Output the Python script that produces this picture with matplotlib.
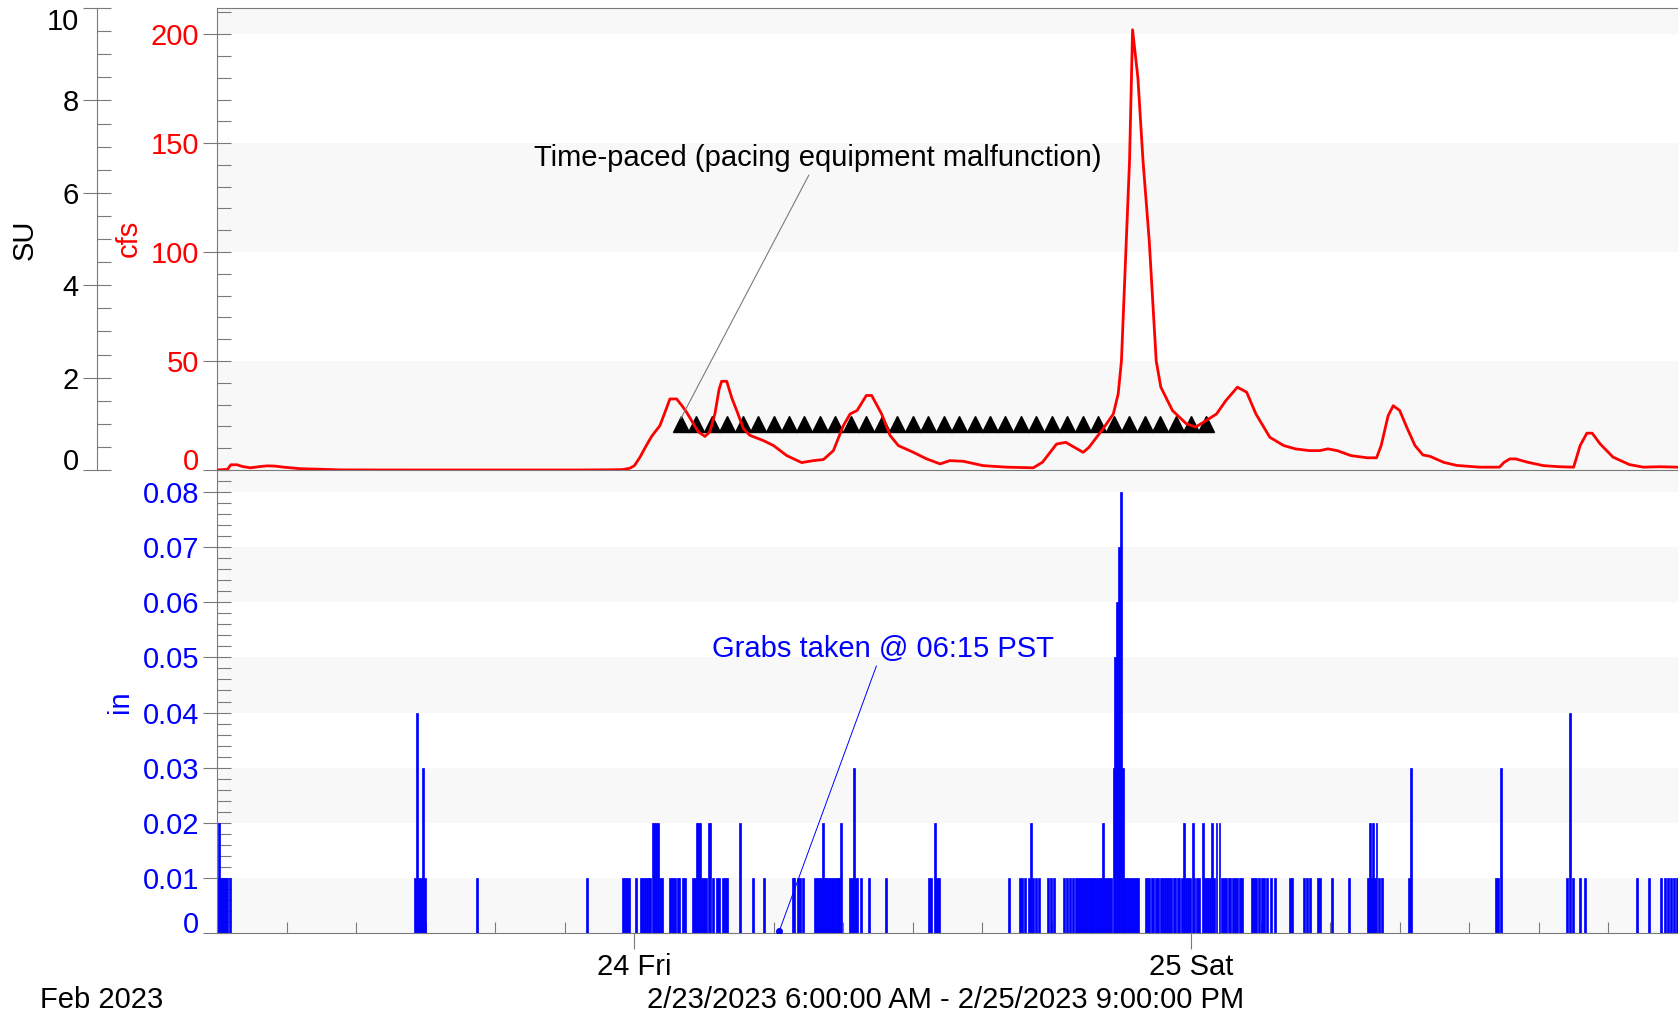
import matplotlib
matplotlib.use('Agg')
import matplotlib.pyplot as plt
import matplotlib.dates as mdates
import numpy as np
import pandas as pd

plt.rcParams['font.family'] = ['Liberation Sans', 'DejaVu Sans']

# ---- data (times are hours after 2/23/2023 6:00 AM) ----
start = pd.Timestamp('2023-02-23 06:00')
end = pd.Timestamp('2023-02-25 21:00')

flow_hours = [0, 0.45, 0.6, 0.86, 1.1, 1.44, 1.8, 2.16, 2.5, 2.87, 3.6, 4.6, 5.3, 8, 12,
              15.65, 17.0, 17.5, 17.8, 18.0, 18.24, 18.5, 18.74, 19.1, 19.3, 19.53, 19.82,
              20.05, 20.25, 20.5, 20.75, 21.04, 21.25, 21.47, 21.65, 21.76, 21.98, 22.2,
              22.41, 22.7, 22.98, 23.56, 24.0, 24.57, 25.21, 25.72, 26.15, 26.58, 27.01,
              27.3, 27.6, 28.0, 28.23, 28.66, 29.02, 29.38, 30.03, 30.6, 31.18, 31.6, 32.18,
              33.04, 34.05, 35.2, 35.6, 36.2, 36.6, 37.35, 37.6, 38.2, 38.65, 38.86, 39.0,
              39.35, 39.48, 39.71, 39.93, 40.2, 40.5, 40.7, 41.2, 41.8, 42.2, 42.67, 43.1,
              43.5, 44.0, 44.4, 44.8, 45.4, 46.0, 46.5, 47.1, 47.56, 47.9, 48.3, 48.9, 49.6,
              50.0, 50.2, 50.5, 50.72, 51.0, 51.3, 51.66, 52.0, 52.3, 52.9, 53.46, 54.45,
              55.3, 55.5, 55.75, 56.0, 56.5, 57.2, 57.9, 58.5, 58.78, 59.07, 59.3, 59.64,
              60.2, 60.9, 61.5, 62.2, 63.0]
flow_cfs = [0, 0.3, 2.4, 2.4, 1.6, 1.0, 1.5, 1.9, 1.8, 1.3, 0.6, 0.3, 0.05, 0, 0,
            0, 0.1, 0.2, 0.8, 2.0, 5.9, 11, 15.4, 20.4, 26, 32.6, 32.6,
            29.5, 26.5, 22, 17.6, 15.4, 17.5, 25.7, 37, 40.7, 40.7, 33,
            27.3, 19, 15.9, 13.5, 11.2, 6.6, 3.4, 4.3, 4.8, 8.9, 20.4,
            25.7, 27.3, 34.2, 34.2, 25.7, 15.9, 11.2, 8.1, 5.1, 2.8, 4.3, 4.0,
            2.0, 1.3, 1.0, 3.6, 11.9, 12.7, 8.1, 10.4, 18.8, 25.7, 34.9, 50,
            142, 202, 180, 142, 105, 50, 38, 27.3, 21.2, 19.7, 22.8, 25.7,
            31.8, 38, 35.7, 25.7, 15, 11.2, 9.7, 8.9, 8.9, 9.7, 8.9, 6.6, 5.6,
            5.6, 11.2, 24.9, 29.5, 27.3, 19.7, 11.2, 6.9, 6.3, 3.5, 2.1, 1.3,
            1.3, 3.5, 5.1, 5.1, 3.6, 2.0, 1.5, 1.3, 11.2, 16.9, 16.9, 12,
            5.9, 2.5, 1.3, 1.5, 1.3]

# time-paced sample times (pacing equipment malfunction)
sample_times = ['2023-02-24 02:00', '2023-02-24 02:40', '2023-02-24 03:20', '2023-02-24 04:00',
                '2023-02-24 04:40', '2023-02-24 05:20', '2023-02-24 06:00', '2023-02-24 06:40',
                '2023-02-24 07:20', '2023-02-24 08:00', '2023-02-24 08:40', '2023-02-24 09:20',
                '2023-02-24 10:00', '2023-02-24 10:40', '2023-02-24 11:20', '2023-02-24 12:00',
                '2023-02-24 12:40', '2023-02-24 13:20', '2023-02-24 14:00', '2023-02-24 14:40',
                '2023-02-24 15:20', '2023-02-24 16:00', '2023-02-24 16:40', '2023-02-24 17:20',
                '2023-02-24 18:00', '2023-02-24 18:40', '2023-02-24 19:20', '2023-02-24 20:00',
                '2023-02-24 20:40', '2023-02-24 21:20', '2023-02-24 22:00', '2023-02-24 22:40',
                '2023-02-24 23:20', '2023-02-25 00:00', '2023-02-25 00:40']
sample_cfs = 21

# rainfall bars, grouped by depth (in)
rain_001 = [0.0, 0.17, 0.25, 0.33, 0.42, 0.58, 8.52, 8.7, 8.78, 8.95, 11.22, 15.97,
            17.52, 17.6, 17.68, 17.76, 18.05, 18.28, 18.36, 18.45, 18.53, 18.61, 18.69,
            19.1, 19.18, 19.52, 19.6, 19.68, 19.76, 19.86, 19.94, 20.1, 20.18, 20.52, 20.6,
            20.92, 21.0, 21.08, 21.4, 21.55, 21.63, 21.8, 21.9, 21.98, 23.1, 23.6,
            24.82, 24.9, 25.05, 25.12, 25.25, 25.8, 25.88, 25.96, 26.04, 26.2, 26.28, 26.36,
            26.44, 26.52, 26.6, 26.68, 26.76, 26.84, 27.3, 27.38, 27.54, 27.62, 27.78,
            28.1, 28.85, 30.72, 30.8, 31.05, 31.15, 34.15, 34.62, 34.72, 34.85, 35.02,
            35.2, 35.3, 35.45, 35.82, 35.95, 36.08, 36.52, 36.65, 36.78, 36.9,
            37.02, 37.1, 37.18, 37.26, 37.34, 37.42, 37.5, 37.58, 37.66, 37.74, 37.82,
            37.9, 37.98, 38.06, 38.14, 38.3, 38.38, 38.46, 38.54,
            39.14, 39.22, 39.3, 39.38, 39.46, 39.54, 39.62, 39.7,
            40.05, 40.13, 40.21, 40.3, 40.38, 40.5, 40.58, 40.7, 40.78, 40.86, 40.98,
            41.06, 41.15, 41.25, 41.33, 41.42, 41.5, 41.6, 41.78, 41.86, 41.95, 42.15,
            42.25, 42.33, 42.58, 42.66, 42.75, 42.83, 43.0, 43.33, 43.42, 43.5, 43.62,
            43.7, 43.8, 43.9, 44.0, 44.1, 44.18, 44.62, 44.72, 44.82, 44.95, 45.05,
            45.15, 45.28, 45.45, 45.62, 46.25, 46.35, 46.88, 47.0, 47.12, 47.48, 47.58,
            48.1, 48.8, 49.62, 49.8, 49.93, 50.1, 50.25, 51.42, 55.15, 55.25,
            58.23, 58.49, 58.79, 58.97, 61.25, 61.75, 62.27, 62.42, 62.56, 62.7, 62.84, 62.97]
rain_002 = [0.08, 18.78, 18.86, 18.94, 19.02, 20.68, 20.76, 20.84, 21.2, 21.28, 22.55,
            26.12, 26.92, 30.96, 35.1, 38.22, 41.68, 42.07, 42.5, 42.91, 43.1, 43.23,
            49.72, 49.86, 50.0]
rain_003 = [8.87, 27.46, 38.66, 39.06, 51.5, 55.35]
rain_004 = [8.62, 58.36]
peak_hours = [38.74, 38.82, 38.9, 38.98]
peak_in = [0.05, 0.06, 0.07, 0.08]

grab_hour = 24.25  # 2/24 06:15

su_ticks = [0, 2, 4, 6, 8, 10]
cfs_ticks = [0, 50, 100, 150, 200]
in_ticks = [0, 0.01, 0.02, 0.03, 0.04, 0.05, 0.06, 0.07, 0.08]
in_labels = ['0', '0.01', '0.02', '0.03', '0.04', '0.05', '0.06', '0.07', '0.08']

# ---- helpers ----
t0 = mdates.date2num(start.to_pydatetime())
t1 = mdates.date2num(end.to_pydatetime())


def tnum(hours):
    return t0 + np.asarray(hours, dtype=float) / 24.0


RED = '#ff0000'
BLUE = '#0000ff'
GRAY = '#7a7a7a'
BAND = '#f8f8f8'
FS = 21

fig = plt.figure(figsize=(16.78, 10.19), dpi=100)
L, W = 217 / 1678, 1461 / 1678
ax_in = fig.add_axes([L, 1 - 933 / 1019, W, 463 / 1019])
ax_top = fig.add_axes([L, 1 - 470 / 1019, W, 462 / 1019], sharex=ax_in)
ax_su = ax_top.twinx()

# ---- top panel: flow ----
for lo, hi in [(0, 50), (100, 150), (200, 212)]:
    ax_top.axhspan(lo, hi, color=BAND, lw=0, zorder=0)
sample_x = mdates.date2num(pd.to_datetime(sample_times).to_pydatetime())
ax_top.plot(sample_x, [sample_cfs] * len(sample_times), ls='none', marker='^', ms=11,
            color='black', zorder=2)
ax_top.plot(tnum(flow_hours), flow_cfs, color=RED, lw=2.0, zorder=3)
ax_top.set_ylim(0, 212)
ax_top.set_yticks(cfs_ticks, [str(v) for v in cfs_ticks])
ax_top.set_yticks(np.arange(0, 212, 10), minor=True)
ax_top.tick_params(axis='y', which='major', direction='inout', length=20, width=0.8,
                   color=GRAY, labelcolor=RED, labelsize=FS, pad=3)
ax_top.tick_params(axis='y', which='minor', direction='in', length=10, width=0.8, color=GRAY)
ax_top.tick_params(axis='x', which='both', bottom=False, labelbottom=False)
ax_top.spines['right'].set_visible(False)
for s in ['left', 'top', 'bottom']:
    ax_top.spines[s].set_color(GRAY)
ax_top.patch.set_alpha(0)
ax_top.text(-88 / 1461, 0.502, 'cfs', color=RED, fontsize=FS, rotation=90,
            ha='center', va='center', transform=ax_top.transAxes)

ax_top.annotate('Time-paced (pacing equipment malfunction)', xy=(tnum(20.0), 23.6),
                xytext=(tnum(25.9), 143), ha='center', va='center', fontsize=FS,
                color='black',
                arrowprops=dict(arrowstyle='-', color=GRAY, lw=0.8, shrinkA=0, shrinkB=0))

# SU axis on the far left
ax_su.set_ylim(0, 10)
ax_su.spines['left'].set_position(('axes', -120 / 1461))
ax_su.spines['left'].set_visible(True)
ax_su.spines['left'].set_color(GRAY)
for s in ['right', 'top', 'bottom']:
    ax_su.spines[s].set_visible(False)
ax_su.yaxis.tick_left()
ax_su.set_yticks(su_ticks, [str(v) for v in su_ticks])
ax_su.set_yticks(np.arange(0, 10.01, 0.5), minor=True)
ax_su.tick_params(axis='y', which='major', direction='inout', length=20, width=0.8,
                  color=GRAY, labelcolor='black', labelsize=FS, pad=3)
ax_su.tick_params(axis='y', which='minor', direction='in', length=10, width=0.8, color=GRAY)
ax_su.text(-192 / 1461, 0.498, 'SU', color='black', fontsize=FS, rotation=90,
           ha='center', va='center', transform=ax_top.transAxes)

# ---- bottom panel: rainfall ----
for lo, hi in [(0, 0.01), (0.02, 0.03), (0.04, 0.05), (0.06, 0.07), (0.08, 0.084)]:
    ax_in.axhspan(lo, hi, color=BAND, lw=0, zorder=0)
bar_w = 5 / 1440
groups = [(rain_001, 0.01), (rain_002, 0.02), (rain_003, 0.03), (rain_004, 0.04)]
for hrs, depth in groups:
    ax_in.bar(tnum(hrs), [depth] * len(hrs), width=bar_w, color=BLUE, edgecolor=BLUE,
              lw=0.5, zorder=2)
ax_in.bar(tnum(peak_hours), peak_in, width=bar_w, color=BLUE, edgecolor=BLUE, lw=0.5, zorder=2)

ax_in.set_ylim(0, 0.084)
ax_in.set_yticks(in_ticks, in_labels)
ax_in.set_yticks(np.arange(0, 0.0841, 0.002), minor=True)
ax_in.tick_params(axis='y', which='major', direction='inout', length=20, width=0.8,
                  color=GRAY, labelcolor=BLUE, labelsize=FS, pad=3)
ax_in.tick_params(axis='y', which='minor', direction='in', length=10, width=0.8, color=GRAY)
ax_in.text(-97 / 1461, 0.499, 'in', color=BLUE, fontsize=FS, rotation=90,
           ha='center', va='center', transform=ax_in.transAxes)

ax_in.annotate('Grabs taken @ 06:15 PST', xy=(tnum(grab_hour), 0.0004),
               xytext=(tnum(28.7), 0.0515), ha='center', va='center', fontsize=FS,
               color=BLUE,
               arrowprops=dict(arrowstyle='-', color=BLUE, lw=0.7, shrinkA=0, shrinkB=0))
ax_in.plot([tnum(grab_hour)], [0.0004], 'o', ms=4, color=BLUE, zorder=4)

ax_in.set_xlim(t0, t1)
ax_in.xaxis.set_major_locator(mdates.DayLocator())
ax_in.xaxis.set_major_formatter(mdates.DateFormatter('%d %a'))
ax_in.xaxis.set_minor_locator(mdates.HourLocator(byhour=range(0, 24, 3)))
ax_in.tick_params(axis='x', which='major', direction='out', length=11.5, width=0.8,
                  color=GRAY, labelsize=FS, pad=3)
ax_in.tick_params(axis='x', which='minor', direction='in', length=8, width=0.8, color=GRAY)
ax_in.spines['top'].set_visible(False)
ax_in.spines['right'].set_visible(False)
for s in ['left', 'bottom']:
    ax_in.spines[s].set_color(GRAY)

# keep the end labels inside the axis span, like the original
ax_top.get_yticklabels()[0].set_va('baseline')
ax_in.get_yticklabels()[0].set_va('baseline')
ax_su.get_yticklabels()[0].set_va('baseline')
ax_su.get_yticklabels()[-1].set_va('top')

fig.text(40 / 1678, 1 - 1000 / 1019, 'Feb 2023', fontsize=FS, ha='left', va='center')
fig.text(946 / 1678, 1 - 1000 / 1019, '2/23/2023 6:00:00 AM - 2/25/2023 9:00:00 PM',
         fontsize=FS, ha='center', va='center')

fig.savefig('out.png', dpi=100)
